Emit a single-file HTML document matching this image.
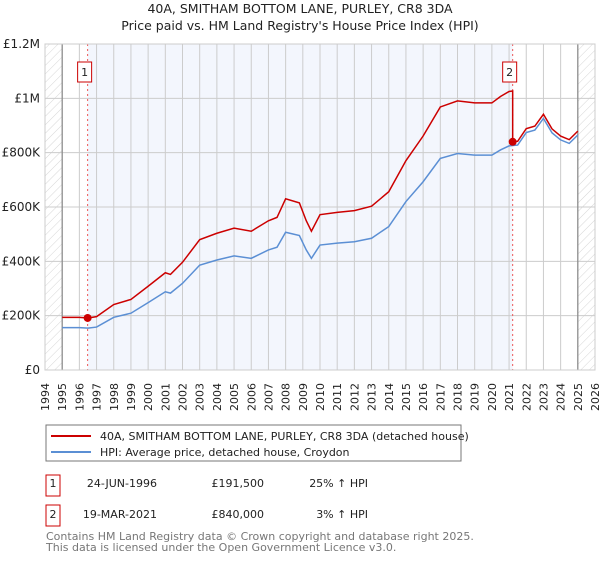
<!DOCTYPE html>
<html><head><meta charset="utf-8"><style>
body{margin:0;background:#fff;width:600px;height:560px;overflow:hidden;font-family:"DejaVu Sans","Liberation Sans",sans-serif}
svg text{font-family:"DejaVu Sans","Liberation Sans",sans-serif}
</style></head><body>
<svg id="chart" width="600" height="560" xmlns="http://www.w3.org/2000/svg">
<defs><pattern id="hatch" width="6" height="6" patternUnits="userSpaceOnUse" patternTransform="rotate(45)"><line x1="0" y1="0" x2="0" y2="6" stroke="#ccc" stroke-width="0.8"/></pattern></defs>
<text x="300" y="13" text-anchor="middle" font-size="12.5" fill="#222">40A, SMITHAM BOTTOM LANE, PURLEY, CR8 3DA</text>
<text x="300" y="30" text-anchor="middle" font-size="12.5" fill="#222">Price paid vs. HM Land Registry's House Price Index (HPI)</text>
<g id="plot"></g>
<g>
<rect x="46" y="425" width="415" height="36" fill="#fff" stroke="#777"/>
<line x1="51" y1="436" x2="91" y2="436" stroke="#cc0000" stroke-width="2"/>
<text x="100" y="440" font-size="11" fill="#222">40A, SMITHAM BOTTOM LANE, PURLEY, CR8 3DA (detached house)</text>
<line x1="51" y1="452" x2="91" y2="452" stroke="#5b8fd4" stroke-width="2"/>
<text x="100" y="456" font-size="11" fill="#222">HPI: Average price, detached house, Croydon</text>
</g>
<g font-size="11" fill="#222">
<rect x="46" y="475" width="14" height="21" fill="#fff" stroke="#cc0000"/><text x="53" y="487" text-anchor="middle">1</text>
<text x="157" y="487" text-anchor="end">24-JUN-1996</text><text x="264" y="487" text-anchor="end">£191,500</text><text x="368" y="487" text-anchor="end">25% ↑ HPI</text>
<rect x="46" y="505" width="14" height="21" fill="#fff" stroke="#cc0000"/><text x="53" y="518" text-anchor="middle">2</text>
<text x="157" y="518" text-anchor="end">19-MAR-2021</text><text x="264" y="518" text-anchor="end">£840,000</text><text x="368" y="518" text-anchor="end">3% ↑ HPI</text>
</g>
<text x="46" y="540" font-size="11" fill="#777">Contains HM Land Registry data © Crown copyright and database right 2025.</text>
<text x="46" y="551" font-size="11" fill="#777">This data is licensed under the Open Government Licence v3.0.</text>
</svg>
<script>
const hpiYears=[1995,1996,1996.5,1997,1998,1999,2000,2001,2001.3,2002,2003,2004,2005,2006,2007,2007.5,2008,2008.8,2009.2,2009.5,2010,2011,2012,2013,2014,2015,2016,2017,2018,2019,2020,2020.5,2021,2021.5,2022,2022.5,2023,2023.5,2024,2024.5,2025];
const hpiValues=[156,156,154,158,194,209,248,288,283,319,386,405,420,411,442,452,507,495,442,411,460,467,472,485,528,620,693,779,797,791,791,810,825,828,874,883,926,873,847,834,865];
const saleYears=[1996.48,2021.21];
const salePrices=[191.5,840];
const saleLabels=["1","2"];
const yTicks=[0,200,400,600,800,1000,1200];
const yTickLabels=["£0","£200K","£400K","£600K","£800K","£1M","£1.2M"];
const xTicks=[];for(let y=1994;y<=2026;y++)xTicks.push(y);

const X0=45,X1=595,Y0=370,Y1=44;
const xs=y=>X0+(y-1994)/(2026-1994)*(X1-X0);
const ys=v=>Y0-v/1200*(Y0-Y1);
const NS="http://www.w3.org/2000/svg";
const plot=document.getElementById('plot');
function mk(t,a){const e=document.createElementNS(NS,t);for(const k in a)e.setAttribute(k,a[k]);plot.appendChild(e);return e;}
function hpiAt(y){for(let i=1;i<hpiYears.length;i++){if(y<=hpiYears[i]){const f=(y-hpiYears[i-1])/(hpiYears[i]-hpiYears[i-1]);return hpiValues[i-1]+f*(hpiValues[i]-hpiValues[i-1]);}}return hpiValues[hpiValues.length-1];}

let e=mk('rect',{x:xs(saleYears[0]),y:Y1,width:xs(saleYears[1])-xs(saleYears[0]),height:Y0-Y1,fill:'#f3f6fd'});


e=mk('rect',{x:X0,y:Y1,width:xs(1995)-X0,height:Y0-Y1,fill:'url(#hatch)'});


e=mk('rect',{x:xs(2025),y:Y1,width:X1-xs(2025),height:Y0-Y1,fill:'url(#hatch)'});


xTicks.forEach(y=>{
  const g=mk('line',{x1:xs(y),y1:Y1,x2:xs(y),y2:Y0,stroke:'#ccc','stroke-width':1});
  
  
  const t=mk('text',{x:0,y:0,'font-size':11,fill:'#222','text-anchor':'end',transform:`translate(${xs(y)+4},383) rotate(-90)`});
  t.textContent=y;
  
  
});
yTicks.forEach((v,i)=>{
  const g=mk('line',{x1:X0,y1:ys(v),x2:X1,y2:ys(v),stroke:'#ccc','stroke-width':1});
  
  
  const t=mk('text',{x:40,y:ys(v)+4,'font-size':12,fill:'#222','text-anchor':'end'});
  t.textContent=yTickLabels[i];
  
  
});
[1995,2025].forEach(y=>{const l=mk('line',{x1:xs(y),y1:Y1,x2:xs(y),y2:Y0,stroke:'#888','stroke-width':1.2});

});
saleYears.forEach((y,i)=>{const l=mk('line',{x1:xs(y),y1:Y1,x2:xs(y),y2:Y0,stroke:'#e55','stroke-width':1,'stroke-dasharray':'2,3'});

});
let pts=hpiYears.map((y,i)=>xs(y)+','+ys(hpiValues[i])).join(' ');
e=mk('polyline',{points:pts,fill:'none',stroke:'#5b8fd4','stroke-width':1.5});


const r1=salePrices[0]/hpiAt(saleYears[0]),r2=salePrices[1]/hpiAt(saleYears[1]);
let rp=[];
hpiYears.forEach((y,i)=>{if(y<saleYears[1])rp.push([y,hpiValues[i]*r1]);});
rp.push([saleYears[1],hpiAt(saleYears[1])*r1]);
rp.push([saleYears[1],salePrices[1]]);
hpiYears.forEach((y,i)=>{if(y>saleYears[1])rp.push([y,hpiValues[i]*r2]);});
e=mk('polyline',{points:rp.map(p=>xs(p[0])+','+ys(p[1])).join(' '),fill:'none',stroke:'#cc0000','stroke-width':1.5});


saleYears.forEach((y,i)=>{
  const c=mk('circle',{cx:xs(y),cy:ys(salePrices[i]),r:4,fill:'#cc0000'});
  
  
  const bx=xs(y)-3;
  const r=mk('rect',{x:bx-7,y:62,width:14,height:20,fill:'#fff',stroke:'#cc0000'});
  
  
  const t=mk('text',{x:bx,y:76,'font-size':11,'text-anchor':'middle',fill:'#222'});
  t.textContent=saleLabels[i];
  
  
});
e=mk('rect',{x:X0,y:Y1,width:X1-X0,height:Y0-Y1,fill:'none',stroke:'#ccc'});


</script>
</body></html>
